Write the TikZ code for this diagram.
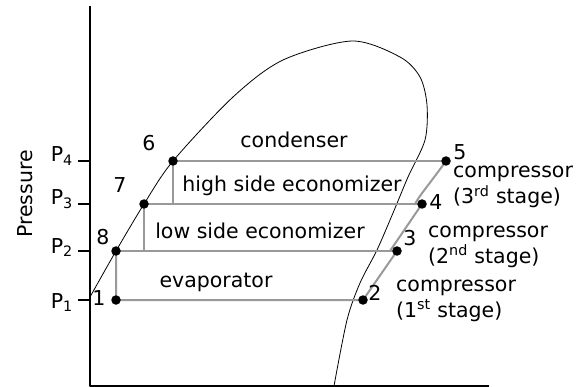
\documentclass[tikz,border=0pt]{standalone}
\usepackage{fontspec}
\setmainfont{DejaVu Sans}
\begin{document}
\begin{tikzpicture}[x=1pt,y=-1pt,font=\fontsize{20.5}{26}\selectfont, line join=round, line cap=round]
	\tikzset{cycle/.style={draw=gray!80,line width=2pt},
		dot/.style={circle,fill=black,inner sep=0pt,minimum size=9.5pt},
		lbl/.style={inner sep=0pt,anchor=base},
		comp/.style={inner sep=0pt,anchor=base west,align=left}}
	\useasboundingbox (0,0) rectangle (583,387);
	% axes
	\coordinate (top) at (90,6); \coordinate (O) at (90,386); \coordinate (xend) at (489,386);
	\draw[line width=2pt,line cap=butt] (top)--(O)--(xend);
	\node[lbl,rotate=90] (ylab) at (32,194) {Pressure};
	% states
	\coordinate (s1) at (116,300); \coordinate (s2) at (363,300);
	\coordinate (s3) at (397,251); \coordinate (s4) at (422,204);
	\coordinate (s5) at (446,161); \coordinate (s6) at (173,161);
	\coordinate (s7) at (144,204); \coordinate (s8) at (116,251);
	\coordinate (m3) at (390,251); \coordinate (m4) at (415,204);
	\foreach \s/\i/\b in {s6/4/162,s7/3/205,s8/2/253,s1/1/308}{
		\draw[line width=2pt,line cap=butt] (78,0 |- \s)--(O |- \s);
		\node[inner sep=0pt,anchor=base east] (P\i) at (73,\b) {P\textsubscript{\i}};
	}
	% saturation dome
	\draw[line width=0.8pt] plot[smooth] coordinates {(90,297) (s8) (s7) (s6) (233,97) (283,60) (352,41) (400,57) (420,77) (427,105) (425,140) (408,177) (393,213) (377,250) (360,283) (347,320) (334,386)};
	% cycle
	\draw[cycle] (s8)--(s1)--(s2)--(s3);
	\draw[cycle] (s8)--(s3);
	\draw[cycle] (m3)--(s4);
	\draw[cycle] (s7)--(s7 |- s8);
	\draw[cycle] (s7)--(s4);
	\draw[cycle] (m4) .. controls (419,196) and (428,186) .. (s5);
	\draw[cycle] (s6)--(s6 |- s7);
	\draw[cycle] (s6)--(s5);
	\foreach \s in {s1,s2,s3,s4,s5,s6,s7,s8} \node[dot] (d\s) at (\s) {};
	% labels
	\node (n6) at (149,143) {6};
	\node (n7) at (120,185) {7};
	\node (n8) at (103,237) {8};
	\node (n1) at (99,298) {1};
	\node (n2) at (375,293) {2};
	\node (n3) at (410,238) {3};
	\node (n4) at (436,202) {4};
	\node (n5) at (460,152) {5};
	\node[lbl] (cond) at (294,148) {condenser};
	\node[lbl] (hse) at (292,192) {high side economizer};
	\node[lbl] (lse) at (260,239) {low side economizer};
	\node[lbl] (evap) at (216,287) {evaporator};
	\node[comp] (c3) at (453,204) {compressor\\(3\textsuperscript{rd} stage)};
	\node[comp] (c2) at (428,263) {compressor\\(2\textsuperscript{nd} stage)};
	\node[comp] (c1) at (396,317) {compressor\\(1\textsuperscript{st} stage)};
\end{tikzpicture}
\end{document}
